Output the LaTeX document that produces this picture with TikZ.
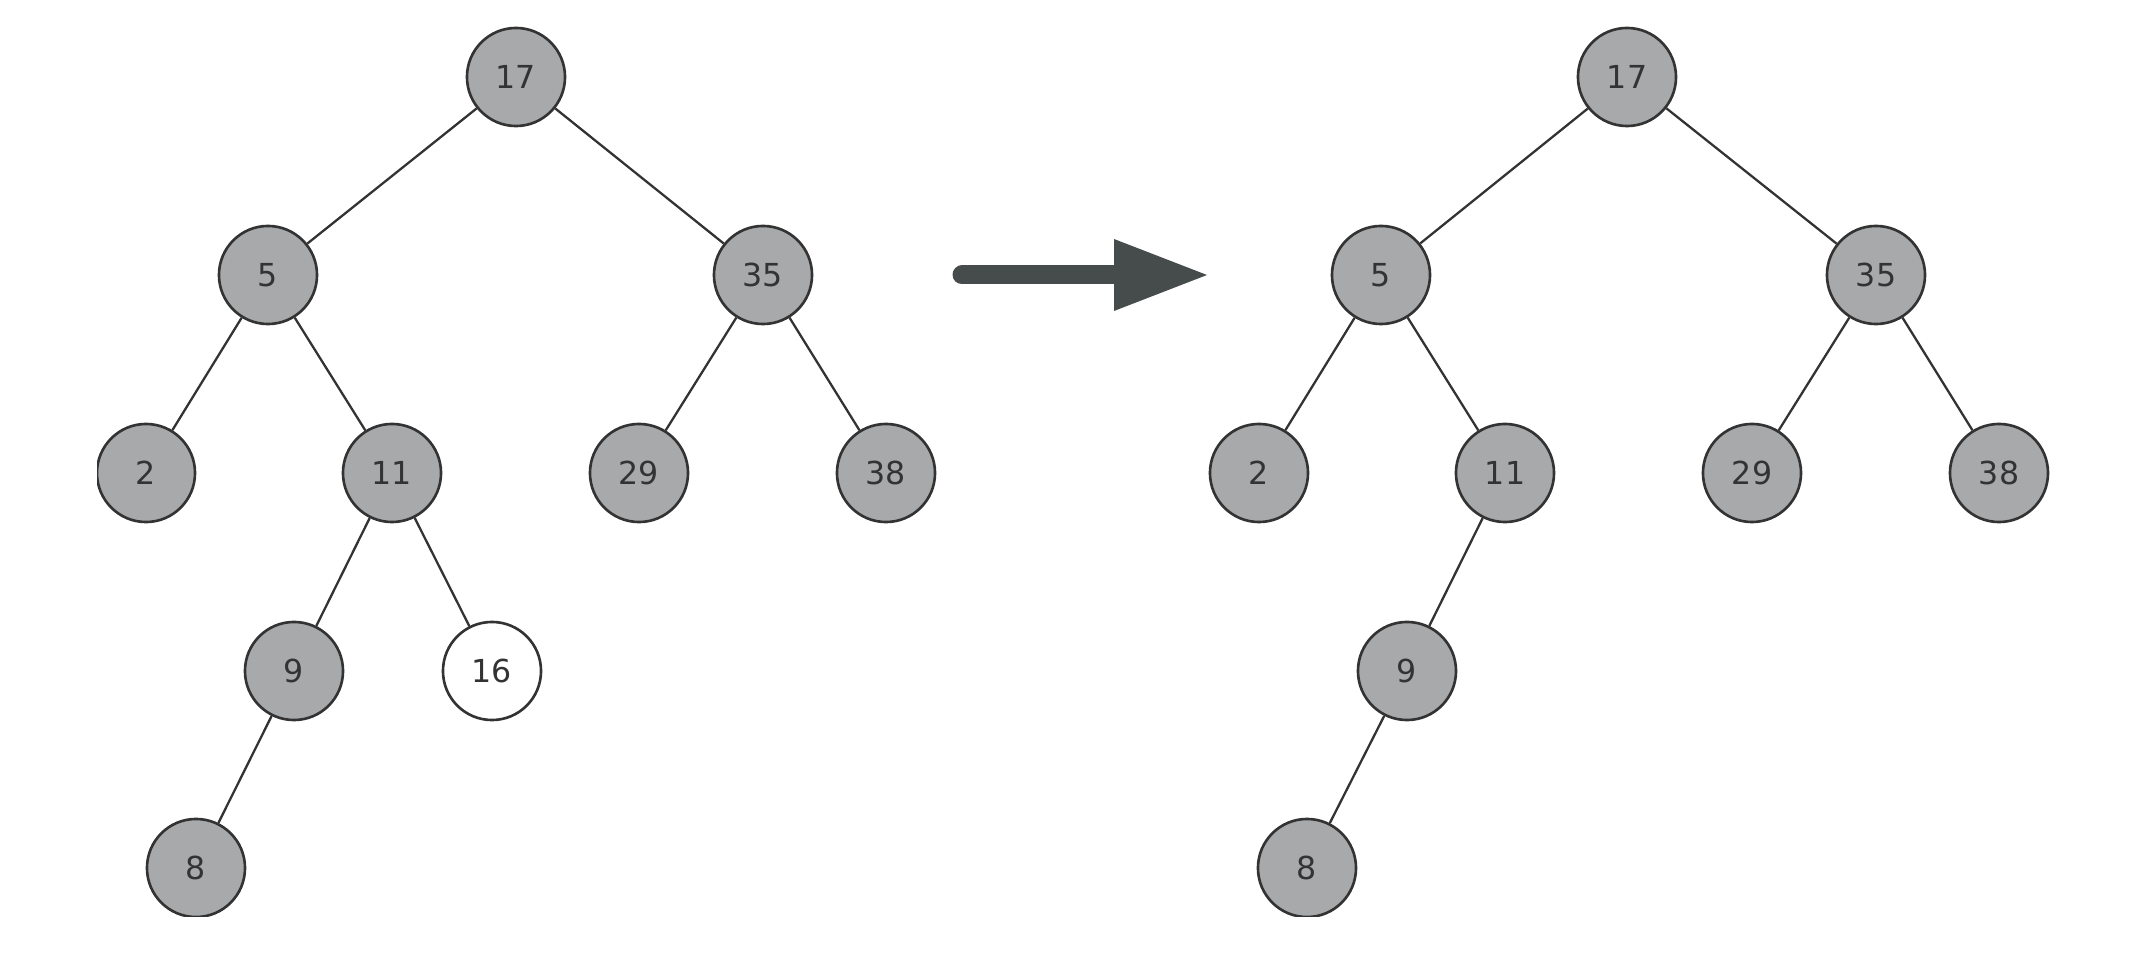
\documentclass[tikz,border=0pt]{standalone}
\usepackage{tikz}
\usepackage{fontspec}
\newfontfamily\keyfont{DejaVu Sans}
\definecolor{keygray}{HTML}{A7A9AB}
\definecolor{inkgray}{HTML}{333333}
\definecolor{arrowgray}{HTML}{464B4B}
\tikzset{key/.style = {circle, draw=inkgray, line width=.75pt, fill=keygray,
    minimum size=.98cm, inner sep=0pt, text=inkgray,
    font=\keyfont\fontsize{9}{11}\selectfont},
  newkey/.style = {key, fill=white},
  link/.style = {draw=inkgray, line width=.65pt}}

\begin{document}
\begin{tikzpicture}[x=.01cm, y=-.01cm]
      \useasboundingbox (0,0) rectangle (2144,958);
      \clip (97,0) rectangle (2144,917);
      % before
      \node[key] (a17) at (516,77) {17};
      \node[key] (a5) at (268,275) {5};
      \node[key] (a35) at (763,275) {35};
      \node[key] (a2) at (146,473) {2};
      \node[key] (a11) at (392,473) {11};
      \node[key] (a29) at (639,473) {29};
      \node[key] (a38) at (886,473) {38};
      \node[key] (a9) at (294,671) {9};
      \node[newkey] (a16) at (492,671) {16};
      \node[key] (a8) at (196,868) {8};
      \foreach \u/\v in {17/5,17/35,5/2,5/11,35/29,35/38,11/9,11/16,9/8}
        \path[link] (a\u) -- (a\v);
      % after
      \node[key] (b17) at (1627,77) {17};
      \node[key] (b5) at (1381,275) {5};
      \node[key] (b35) at (1876,275) {35};
      \node[key] (b2) at (1259,473) {2};
      \node[key] (b11) at (1505,473) {11};
      \node[key] (b29) at (1752,473) {29};
      \node[key] (b38) at (1999,473) {38};
      \node[key] (b9) at (1407,671) {9};
      \node[key] (b8) at (1307,868) {8};
      \foreach \u/\v in {17/5,17/35,5/2,5/11,35/29,35/38,11/9,9/8}
        \path[link] (b\u) -- (b\v);
      \coordinate (from) at (962,275);
      \coordinate (base) at (1114,275);
      \coordinate (tip) at (1207,275);
      \draw[arrowgray, line width=5.4pt, line cap=round] (from) -- (base);
      \fill[arrowgray] (base) ++(0,-36) -- (tip) -- ++(-93,36) -- cycle;
    \end{tikzpicture}
\end{document}
